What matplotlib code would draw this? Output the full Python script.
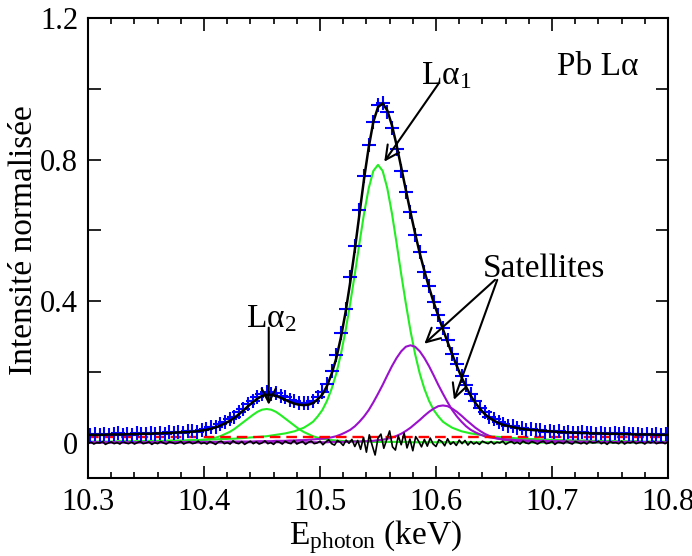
import numpy as np
import matplotlib
matplotlib.use("Agg")
import matplotlib.pyplot as plt
from matplotlib.ticker import MultipleLocator, FixedLocator, FixedFormatter

plt.rcParams['font.family'] = ['Liberation Serif', 'DejaVu Serif']
plt.rcParams['mathtext.fontset'] = 'custom'
plt.rcParams['mathtext.rm'] = 'Liberation Serif'
plt.rcParams['mathtext.it'] = 'Liberation Serif:italic'


## Data ##
e_start = 10.298  # first energy point (keV)
e_step = 0.004    # spacing between points (keV)

# total fit (black line)
fit_total = [
    0.022, 0.022, 0.022, 0.022, 0.022, 0.023, 0.023, 0.023, 0.023, 0.024,
    0.024, 0.024, 0.025, 0.025, 0.025, 0.026, 0.026, 0.027, 0.027, 0.028,
    0.029, 0.029, 0.030, 0.031, 0.032, 0.034, 0.036, 0.039, 0.043, 0.048,
    0.054, 0.061, 0.070, 0.080, 0.091, 0.103, 0.114, 0.124, 0.132, 0.135,
    0.135, 0.132, 0.127, 0.121, 0.115, 0.110, 0.107, 0.106, 0.107, 0.112,
    0.122, 0.136, 0.160, 0.194, 0.238, 0.297, 0.368, 0.452, 0.545, 0.646,
    0.746, 0.835, 0.907, 0.948, 0.959, 0.939, 0.897, 0.841, 0.778, 0.714,
    0.651, 0.591, 0.535, 0.485, 0.439, 0.396, 0.358, 0.320, 0.284, 0.249,
    0.216, 0.185, 0.157, 0.132, 0.112, 0.095, 0.081, 0.070, 0.062, 0.055,
    0.050, 0.047, 0.044, 0.041, 0.039, 0.037, 0.036, 0.035, 0.034, 0.033,
    0.032, 0.031, 0.030, 0.029, 0.029, 0.028, 0.028, 0.027, 0.027, 0.026,
    0.026, 0.026, 0.025, 0.025, 0.025, 0.024, 0.024, 0.024, 0.023, 0.023,
    0.023, 0.023, 0.023, 0.022, 0.022, 0.022, 0.022]

# measured points (blue +)
measured = [
    0.024, 0.021, 0.025, 0.022, 0.024, 0.021, 0.024, 0.026, 0.022, 0.025,
    0.022, 0.026, 0.025, 0.023, 0.028, 0.025, 0.027, 0.025, 0.029, 0.028,
    0.031, 0.027, 0.033, 0.032, 0.031, 0.037, 0.038, 0.043, 0.045, 0.052,
    0.057, 0.066, 0.073, 0.086, 0.095, 0.108, 0.117, 0.130, 0.136, 0.142,
    0.138, 0.140, 0.132, 0.130, 0.121, 0.118, 0.111, 0.113, 0.112, 0.119,
    0.128, 0.144, 0.166, 0.202, 0.248, 0.309, 0.378, 0.467, 0.557, 0.656,
    0.754, 0.840, 0.907, 0.953, 0.961, 0.935, 0.889, 0.829, 0.768, 0.708,
    0.653, 0.586, 0.539, 0.482, 0.444, 0.398, 0.362, 0.323, 0.289, 0.251,
    0.222, 0.189, 0.164, 0.137, 0.118, 0.099, 0.087, 0.073, 0.067, 0.057,
    0.054, 0.048, 0.047, 0.041, 0.042, 0.036, 0.038, 0.035, 0.036, 0.031,
    0.033, 0.030, 0.032, 0.028, 0.031, 0.028, 0.026, 0.029, 0.026, 0.027,
    0.024, 0.028, 0.025, 0.023, 0.027, 0.023, 0.026, 0.023, 0.025, 0.023,
    0.021, 0.025, 0.022, 0.024, 0.021, 0.023, 0.024]

# L alpha 1 component (green)
la1 = [
    0.003, 0.003, 0.003, 0.003, 0.003, 0.003, 0.003, 0.004, 0.004, 0.004,
    0.004, 0.004, 0.004, 0.005, 0.005, 0.005, 0.005, 0.005, 0.006, 0.006,
    0.006, 0.006, 0.007, 0.007, 0.007, 0.008, 0.008, 0.009, 0.009, 0.010,
    0.010, 0.011, 0.011, 0.012, 0.013, 0.014, 0.015, 0.016, 0.017, 0.018,
    0.020, 0.022, 0.024, 0.026, 0.029, 0.032, 0.037, 0.042, 0.050, 0.059,
    0.074, 0.092, 0.118, 0.152, 0.195, 0.250, 0.316, 0.393, 0.476, 0.564,
    0.648, 0.719, 0.768, 0.785, 0.768, 0.719, 0.648, 0.564, 0.476, 0.393,
    0.316, 0.250, 0.195, 0.152, 0.118, 0.092, 0.074, 0.059, 0.050, 0.042,
    0.037, 0.032, 0.029, 0.026, 0.024, 0.022, 0.020, 0.018, 0.017, 0.016,
    0.015, 0.014, 0.013, 0.012, 0.011, 0.011, 0.010, 0.010, 0.009, 0.009,
    0.008, 0.008, 0.007, 0.007, 0.007, 0.006, 0.006, 0.006, 0.006, 0.005,
    0.005, 0.005, 0.005, 0.005, 0.004, 0.004, 0.004, 0.004, 0.004, 0.004,
    0.003, 0.003, 0.003, 0.003, 0.003, 0.003, 0.003]

# L alpha 2 component (green)
la2 = [
    0.001, 0.001, 0.001, 0.001, 0.001, 0.001, 0.001, 0.001, 0.001, 0.002,
    0.002, 0.002, 0.002, 0.002, 0.002, 0.002, 0.002, 0.003, 0.003, 0.003,
    0.004, 0.004, 0.004, 0.005, 0.006, 0.007, 0.009, 0.011, 0.014, 0.018,
    0.024, 0.030, 0.038, 0.048, 0.058, 0.068, 0.078, 0.087, 0.093, 0.095,
    0.093, 0.087, 0.078, 0.068, 0.058, 0.048, 0.038, 0.030, 0.024, 0.018,
    0.014, 0.011, 0.009, 0.007, 0.006, 0.005, 0.004, 0.004, 0.004, 0.003,
    0.003, 0.003, 0.002, 0.002, 0.002, 0.002, 0.002, 0.002, 0.002, 0.002,
    0.001, 0.001, 0.001, 0.001, 0.001, 0.001, 0.001, 0.001, 0.001, 0.001,
    0.001, 0.001, 0.001, 0.001, 0.001, 0.001, 0.001, 0.001, 0.001, 0.001,
    0.001, 0.001, 0.001, 0.001, 0.001, 0.000, 0.000, 0.000, 0.000, 0.000,
    0.000, 0.000, 0.000, 0.000, 0.000, 0.000, 0.000, 0.000, 0.000, 0.000,
    0.000, 0.000, 0.000, 0.000, 0.000, 0.000, 0.000, 0.000, 0.000, 0.000,
    0.000, 0.000, 0.000, 0.000, 0.000, 0.000, 0.000]

# first satellite (purple)
sat1 = [
    0.001, 0.001, 0.001, 0.001, 0.001, 0.001, 0.001, 0.001, 0.001, 0.001,
    0.001, 0.001, 0.001, 0.001, 0.001, 0.001, 0.001, 0.001, 0.001, 0.001,
    0.002, 0.002, 0.002, 0.002, 0.002, 0.002, 0.002, 0.002, 0.002, 0.002,
    0.002, 0.003, 0.003, 0.003, 0.003, 0.003, 0.003, 0.004, 0.004, 0.004,
    0.004, 0.005, 0.005, 0.005, 0.006, 0.006, 0.007, 0.007, 0.008, 0.009,
    0.010, 0.011, 0.013, 0.015, 0.018, 0.023, 0.029, 0.036, 0.046, 0.059,
    0.074, 0.092, 0.114, 0.138, 0.163, 0.190, 0.216, 0.239, 0.258, 0.271,
    0.275, 0.271, 0.258, 0.239, 0.216, 0.190, 0.163, 0.138, 0.114, 0.092,
    0.074, 0.059, 0.046, 0.036, 0.029, 0.023, 0.018, 0.015, 0.013, 0.011,
    0.010, 0.009, 0.008, 0.007, 0.007, 0.006, 0.006, 0.005, 0.005, 0.005,
    0.004, 0.004, 0.004, 0.004, 0.003, 0.003, 0.003, 0.003, 0.003, 0.003,
    0.002, 0.002, 0.002, 0.002, 0.002, 0.002, 0.002, 0.002, 0.002, 0.002,
    0.002, 0.001, 0.001, 0.001, 0.001, 0.001, 0.001]

# second satellite (purple)
sat2 = [
    0.000, 0.000, 0.000, 0.000, 0.000, 0.000, 0.000, 0.000, 0.000, 0.000,
    0.000, 0.000, 0.000, 0.000, 0.000, 0.000, 0.000, 0.000, 0.000, 0.000,
    0.000, 0.000, 0.000, 0.000, 0.000, 0.000, 0.000, 0.000, 0.000, 0.000,
    0.000, 0.000, 0.001, 0.001, 0.001, 0.001, 0.001, 0.001, 0.001, 0.001,
    0.001, 0.001, 0.001, 0.001, 0.001, 0.001, 0.001, 0.001, 0.001, 0.001,
    0.001, 0.001, 0.001, 0.002, 0.002, 0.002, 0.002, 0.003, 0.003, 0.003,
    0.004, 0.004, 0.005, 0.007, 0.008, 0.011, 0.014, 0.019, 0.025, 0.033,
    0.042, 0.053, 0.064, 0.076, 0.087, 0.096, 0.103, 0.105, 0.103, 0.096,
    0.087, 0.076, 0.064, 0.053, 0.042, 0.033, 0.025, 0.019, 0.014, 0.011,
    0.008, 0.007, 0.005, 0.004, 0.004, 0.003, 0.003, 0.003, 0.002, 0.002,
    0.002, 0.002, 0.001, 0.001, 0.001, 0.001, 0.001, 0.001, 0.001, 0.001,
    0.001, 0.001, 0.001, 0.001, 0.001, 0.001, 0.001, 0.001, 0.001, 0.001,
    0.001, 0.001, 0.001, 0.000, 0.000, 0.000, 0.000]

background = 0.017  # red dashed level

# residual (black, in units of 1e-3), evenly spread over 10.3 .. 10.8 keV
resid_milli = [
    -3, 2, -4, 0, -1, 3, -5, -1, 2, -3, 0, -4, 3, -1, -3, 2, -4, 0, 3, -3,
    -1, 2, -5, 0, -3, 3, -1, -4, 2, 0, -3, -1, 3, -4, 0, 2, -3, -1, 4, -3,
    0, -4, 3, -1, -5, 2, 4, -3, 0, -4, 5, -1, -3, 3, -5, 0, 4, -3, 2, -4,
    -1, 5, -3, 0, -5, 3, 1, -4, 4, -1, -3, 6, -4, 0, 3, -5, 1, 4, -3, -1,
    4, -6, 2, 8, -3, -7, 6, 1, -8, 7, -2, 9,
    -11, 6, -19, 15, -27, 22, -8, -35, 13, 24, -16, 9, 33, -12, -21, 19,
    -6, 27, -15, 10, -23, 17, 4, -12,
    9, -10, 13, -4, -11, 8, 3, -9, 11, -5, 2, -8, 7, -3, 6, -7,
    3, -4, 1, -5, 4, 0, -3, 3, -4, 1, -1, 4, -5, 0, 3, -3, 1, -4, 4, -1,
    -3, 3, 0, -4, 1, 4, -3, -1, 3, -5, 1, 0, -3, 4, -1, -4, 3, 0, -3, 1,
    -4, 3, -1, 0, 4, -3, 1, -5, 3, -1, 0, -3, 4, -4, 1, -1, 3, -3, 0, 1,
    -4, 3, -1, 4, -3, 0, 1, -3, 3]

y_ticks = [0.0, 0.2, 0.4, 0.6, 0.8, 1.0, 1.2]
y_labels = ['0', '', '0.4', '', '0.8', '', '1.2']

energy = e_start + e_step * np.arange(len(fit_total))
resid_energy = np.linspace(10.3, 10.8, len(resid_milli))
resid = np.array(resid_milli) / 1000.0


## Plot ##
fig = plt.figure(figsize=(6.92, 5.56), dpi=100)
ax = fig.add_axes([0.1272, 0.1403, 0.8381, 0.8273])

green = '#22ee22'
purple = '#9a10cc'
ax.plot(energy, la1, color=green, lw=1.5)
ax.plot(energy, la2, color=green, lw=1.5)
ax.plot(energy, sat1, color=purple, lw=1.5)
ax.plot(energy, sat2, color=purple, lw=1.5)
ax.plot([10.3, 10.8], [background, background], color='red', lw=1.7, dashes=(4.5, 2.5))
ax.plot(resid_energy, resid, color='black', lw=1.2)
ax.plot(energy, measured, ls='none', marker='+', color='#0000ff', ms=10, mew=1.5)
ax.plot(energy, fit_total, color='black', lw=1.8)

ax.set_xlim(10.3, 10.8)
ax.set_ylim(-0.1, 1.2)
ax.xaxis.set_major_locator(MultipleLocator(0.1))
ax.xaxis.set_minor_locator(MultipleLocator(0.02))
ax.yaxis.set_major_locator(FixedLocator(y_ticks))
ax.yaxis.set_major_formatter(FixedFormatter(y_labels))
ax.tick_params(which='both', direction='in', top=True, right=True, width=1.2)
ax.tick_params(which='major', length=9, labelsize=22, pad=7)
ax.tick_params(which='minor', length=4.5)
for s in ax.spines.values():
    s.set_linewidth(1.5)

fig.text(24 / 692, 1 - 240 / 556, 'Intensité normalisée', rotation=90,
         ha='center', va='center', fontsize=24)
fig.text(376 / 692, 1 - 537 / 556, r'E$_{\mathrm{photon}}$ (keV)',
         ha='center', va='center', fontsize=24)

# labels and arrows
ax.text(10.704, 1.039, 'Pb Lα', fontsize=24, ha='left', va='baseline')
ax.text(10.587, 1.0135, r'Lα$_1$', fontsize=24, ha='left', va='baseline')
ax.text(10.436, 0.3275, r'Lα$_2$', fontsize=24, ha='left', va='baseline')
ax.text(10.6405, 0.4687, 'Satellites', fontsize=24, ha='left', va='baseline')

arrow = dict(arrowstyle='->, head_length=0.55, head_width=0.28', color='black',
             lw=1.5, shrinkA=0, shrinkB=0, mutation_scale=18)
ax.annotate('', xy=(10.5554, 0.794), xytext=(10.602, 1.0135), arrowprops=arrow)
ax.annotate('', xy=(10.4558, 0.107), xytext=(10.4558, 0.325), arrowprops=arrow)
ax.annotate('', xy=(10.590, 0.2795), xytext=(10.6509, 0.460), arrowprops=arrow)
ax.annotate('', xy=(10.6155, 0.121), xytext=(10.6528, 0.460), arrowprops=arrow)

fig.savefig('out.png', dpi=100)
